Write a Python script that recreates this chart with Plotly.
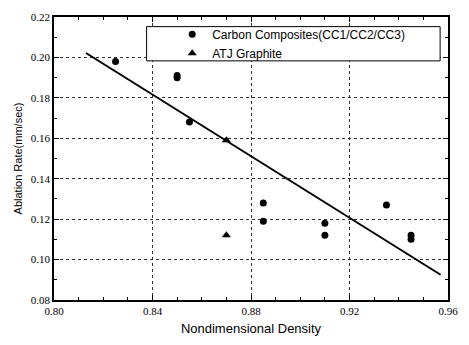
import plotly.graph_objects as go

# Data
cc_density = [0.825, 0.850, 0.850, 0.855, 0.885, 0.885, 0.910, 0.910, 0.935, 0.945, 0.945]
cc_rate = [0.198, 0.191, 0.190, 0.168, 0.128, 0.119, 0.118, 0.112, 0.127, 0.112, 0.110]
atj_density = [0.870, 0.870]
atj_rate = [0.159, 0.112]
fit_density = [0.813, 0.957]
fit_rate = [0.2022, 0.0925]

fig = go.Figure()
fig.add_trace(go.Scatter(x=fit_density, y=fit_rate, mode="lines",
                         line=dict(color="black", width=2), showlegend=False))
fig.add_trace(go.Scatter(x=cc_density, y=cc_rate, mode="markers",
                         name="Carbon Composites(CC1/CC2/CC3)",
                         marker=dict(symbol="circle", size=7, color="black")))
fig.add_trace(go.Scatter(x=atj_density, y=atj_rate, mode="markers",
                         name="ATJ Graphite",
                         marker=dict(symbol="triangle-up", size=8, color="black")))

axis_common = dict(
    showline=True, linecolor="black", linewidth=1.5, mirror="ticks",
    ticks="inside", ticklen=5, tickcolor="black",
    showgrid=True, gridcolor="#333333", griddash="dot", gridwidth=1,
    zeroline=False, tickformat=".2f",
    tickfont=dict(family="Liberation Serif, Times New Roman, serif", size=11, color="black"),
)

fig.update_xaxes(range=[0.80, 0.96], dtick=0.04, tick0=0.80,
                 minor=dict(dtick=0.01, ticks="inside", ticklen=3, tickcolor="black", showgrid=False),
                 title=dict(text="Nondimensional Density", font=dict(family="Liberation Sans", size=13, color="black"), standoff=8),
                 **axis_common)
fig.update_yaxes(range=[0.08, 0.22], dtick=0.02, tick0=0.08,
                 minor=dict(dtick=0.01, ticks="inside", ticklen=3, tickcolor="black", showgrid=False),
                 title=dict(text="Ablation Rate(mm/sec)", font=dict(family="Liberation Sans", size=11, color="black"), standoff=6),
                 **axis_common)

# legend frame
fig.add_shape(type="rect", xref="paper", yref="paper",
              x0=0.235, x1=0.980, y0=0.845, y1=0.966,
              line=dict(color="black", width=1), fillcolor="white", layer="above")

fig.update_layout(
    width=469, height=345,
    margin=dict(l=54, r=11, t=13, b=42),
    plot_bgcolor="white", paper_bgcolor="white",
    legend=dict(x=0.30, y=0.99, xanchor="left", yanchor="top",
                borderwidth=0, bgcolor="rgba(0,0,0,0)",
                font=dict(family="Liberation Sans", size=12, color="black"),
                tracegroupgap=0),
)

fig.write_html("out.html", config={"displayModeBar": False},
               post_script="document.body.style.margin='0px';")
